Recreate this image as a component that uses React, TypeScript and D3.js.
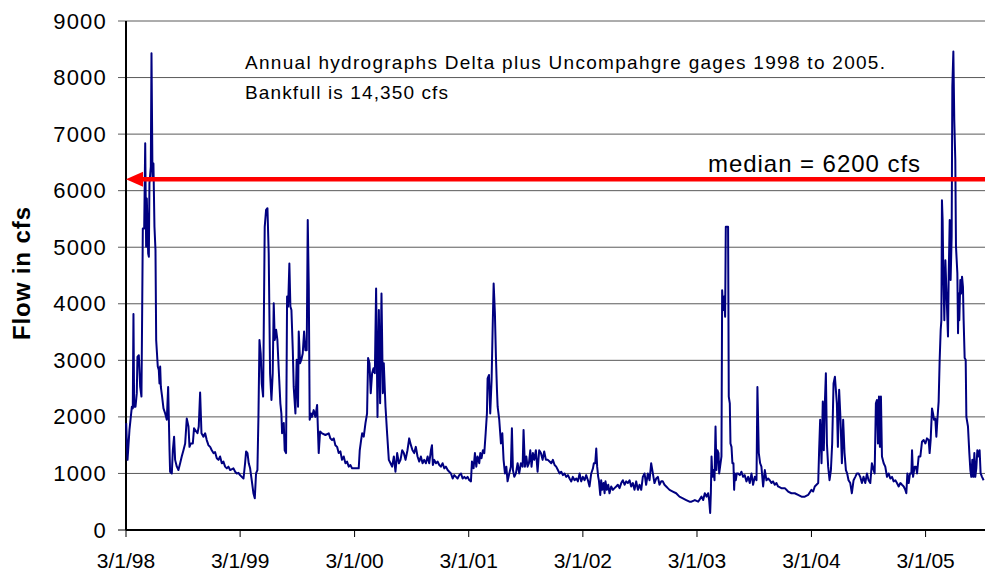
import React from "react";
import * as d3 from "d3";

// decimal years
const years: number[] = [
1998.163,1998.175,1998.192,1998.213,1998.221,1998.227,1998.233,1998.245,1998.256,1998.262,1998.274,1998.286,1998.297,1998.303,1998.309,1998.321,1998.330,1998.338,1998.344,1998.356,1998.362,1998.367,1998.379,1998.385,1998.394,1998.402,1998.411,1998.420,1998.426,1998.440,1998.449,1998.455,1998.461,1998.467,1998.478,1998.490,1998.505,1998.519,1998.531,1998.543,1998.548,1998.563,1998.572,1998.583,1998.592,1998.607,1998.621,1998.636,1998.650,1998.665,1998.680,1998.694,1998.709,1998.718,1998.729,1998.747,1998.758,1998.767,1998.788,1998.799,1998.811,1998.823,1998.840,1998.855,1998.869,1998.884,1998.899,1998.913,1998.928,1998.942,1998.957,1998.972,1998.986,1999.001,1999.015,1999.030,1999.045,1999.059,1999.074,1999.103,1999.118,1999.132,1999.147,1999.161,1999.176,1999.191,1999.205,1999.214,1999.226,1999.237,1999.249,1999.263,1999.278,1999.290,1999.301,1999.313,1999.322,1999.331,1999.342,1999.351,
1999.363,1999.377,1999.389,1999.401,1999.412,1999.424,1999.436,1999.447,1999.456,1999.465,1999.477,1999.488,1999.500,1999.514,1999.523,1999.529,1999.544,1999.552,1999.564,1999.573,1999.582,1999.593,1999.602,1999.611,1999.623,1999.631,1999.646,1999.657,1999.669,1999.675,1999.687,1999.698,1999.710,1999.722,1999.733,1999.745,1999.754,1999.763,1999.771,1999.783,1999.792,1999.806,1999.821,1999.836,1999.850,1999.862,1999.879,1999.909,1999.938,1999.952,1999.967,1999.982,1999.996,2000.011,2000.025,2000.040,2000.054,2000.069,2000.084,2000.098,2000.113,2000.127,2000.142,2000.171,2000.200,2000.209,2000.221,2000.230,2000.244,2000.259,2000.273,2000.282,2000.294,2000.305,2000.317,2000.329,2000.341,2000.352,2000.364,2000.376,2000.387,2000.399,2000.411,2000.419,2000.434,2000.448,2000.463,2000.478,2000.492,2000.507,2000.521,2000.536,2000.551,2000.565,2000.580,2000.594,2000.609,
2000.626,2000.641,2000.656,2000.670,2000.685,2000.699,2000.714,2000.729,2000.743,2000.758,2000.772,2000.787,2000.802,2000.816,2000.831,2000.840,2000.848,2000.860,2000.875,2000.889,2000.904,2000.918,2000.933,2000.948,2000.962,2000.977,2000.991,2001.006,2001.021,2001.035,2001.050,2001.064,2001.079,2001.094,2001.108,2001.123,2001.137,2001.152,2001.167,2001.181,2001.190,2001.204,2001.216,2001.228,2001.239,2001.254,2001.263,2001.274,2001.286,2001.298,2001.310,2001.321,2001.327,2001.339,2001.350,2001.362,2001.371,2001.380,2001.391,2001.400,2001.409,2001.415,2001.429,2001.444,2001.456,2001.467,2001.479,2001.491,2001.502,2001.517,2001.531,2001.540,2001.549,2001.561,2001.575,2001.590,2001.604,2001.619,2001.634,2001.642,2001.654,2001.666,2001.677,2001.689,2001.701,2001.712,2001.724,2001.736,2001.750,2001.765,2001.779,2001.794,2001.809,2001.823,2001.838,
2001.855,2001.870,2001.885,2001.899,2001.914,2001.928,2001.943,2001.958,2001.972,2001.987,2002.001,2002.016,2002.031,2002.045,2002.060,2002.074,2002.089,2002.104,2002.118,2002.133,2002.147,2002.162,2002.177,2002.191,2002.206,2002.220,2002.235,2002.250,2002.258,2002.270,2002.279,2002.287,2002.296,2002.302,2002.314,2002.322,2002.331,2002.343,2002.352,2002.360,2002.372,2002.384,2002.395,2002.410,2002.425,2002.439,2002.454,2002.468,2002.483,2002.498,2002.512,2002.527,2002.541,2002.556,2002.571,2002.585,2002.600,2002.614,2002.629,2002.644,2002.658,2002.673,2002.687,2002.702,2002.716,2002.731,2002.746,2002.760,2002.775,2002.789,2002.804,2002.819,2002.833,2002.848,2002.862,2002.877,2002.892,2002.906,2002.921,2002.950,2002.979,2003.008,2003.038,2003.067,2003.096,
2003.113,2003.143,2003.172,2003.201,2003.216,2003.230,2003.245,2003.259,2003.268,2003.277,2003.283,2003.289,2003.297,2003.306,2003.315,2003.324,2003.332,2003.341,2003.350,2003.356,2003.364,2003.376,2003.382,2003.391,2003.399,2003.408,2003.414,2003.426,2003.434,2003.440,2003.449,2003.455,2003.464,2003.472,2003.481,2003.487,2003.493,2003.502,2003.510,2003.522,2003.537,2003.551,2003.566,2003.580,2003.595,2003.610,2003.624,2003.639,2003.653,2003.668,2003.683,2003.691,2003.703,2003.715,2003.726,2003.741,2003.756,2003.770,2003.785,2003.799,2003.814,2003.828,2003.843,2003.858,2003.872,2003.901,2003.931,2003.960,2003.989,2004.018,2004.047,2004.077,2004.106,2004.135,2004.164,2004.179,2004.193,2004.208,2004.223,2004.231,2004.240,2004.252,2004.263,2004.272,2004.281,2004.290,2004.299,2004.310,2004.322,2004.334,2004.345,2004.357,2004.369,
2004.386,2004.395,2004.406,2004.418,2004.430,2004.441,2004.453,2004.465,2004.476,2004.488,2004.503,2004.517,2004.532,2004.547,2004.561,2004.576,2004.590,2004.605,2004.619,2004.634,2004.649,2004.663,2004.678,2004.692,2004.707,2004.716,2004.727,2004.736,2004.745,2004.754,2004.762,2004.771,2004.780,2004.795,2004.809,2004.824,2004.838,2004.853,2004.868,2004.882,2004.897,2004.911,2004.926,2004.941,2004.955,2004.970,2004.984,2004.993,2005.002,2005.014,2005.025,2005.037,2005.043,2005.052,2005.066,2005.078,2005.087,2005.101,2005.116,2005.130,2005.145,2005.160,2005.174,2005.189,2005.197,2005.206,2005.218,2005.227,2005.235,2005.247,2005.256,2005.265,2005.276,2005.285,2005.294,2005.300,2005.305,2005.311,2005.317,2005.326,2005.335,2005.346,2005.358,2005.364,2005.373,2005.381,2005.390,2005.396,2005.405,2005.413,2005.422,2005.428,2005.440,2005.446,2005.451,2005.457,2005.466,2005.472,2005.481,2005.489,2005.495,2005.504,2005.513,2005.519,2005.533,2005.545,2005.554,2005.562,2005.571,2005.580,2005.589,2005.597,2005.606,2005.615,2005.627,2005.635,2005.644,2005.656,2005.670
];

// flow in cfs
const flow: number[] = [
1890,1240,1770,2180,2150,3820,2180,2180,2420,3060,3090,2530,2360,3800,5330,5330,6840,5010,5860,4890,4830,6130,6420,8430,6190,6480,5360,4950,3360,2890,2830,2590,2890,2530,2360,2150,2060,1950,2530,1410,1030,1000,1410,1650,1240,1120,1060,1180,1300,1410,1530,1970,1830,1470,1530,1530,1800,1770,1710,1830,2430,1710,1650,1710,1590,1500,1470,1410,1360,1380,1270,1240,1300,1180,1210,1120,1090,1120,1060,1090,1030,1000,1010,970,940,910,1180,1390,1360,1180,1090,880,650,560,1000,1060,2000,3360,3120,2590,
2360,5360,5660,5690,4890,2770,2300,2770,4010,3360,3540,3360,2830,2240,2060,1710,1890,1410,1360,4130,3950,4710,3950,3890,3180,2530,2060,3010,2180,3510,2950,3010,3120,3510,3180,3180,5480,4300,1950,2060,2000,2120,2000,2210,1360,1740,1710,1680,1710,1620,1590,1620,1500,1470,1360,1390,1240,1300,1180,1210,1120,1150,1090,1090,1090,1410,1590,1710,1650,1890,2060,3040,2950,2420,2770,2860,2770,4270,2000,3890,2240,4180,2420,2950,2180,1710,1240,1180,1120,1300,1030,1360,1180,1240,1410,1360,1240,
1410,1620,1500,1410,1360,1470,1300,1210,1300,1180,1240,1180,1300,1180,1410,1500,1150,1240,1180,1210,1150,1120,1180,1090,1120,1060,1030,1000,910,970,940,910,970,1000,910,940,910,940,880,860,1210,1090,1360,1120,1300,1180,1360,1270,1410,1360,1710,2060,2680,2740,2060,2650,3540,4360,3830,3060,2480,2180,1950,1530,1710,1240,1000,1120,860,1000,1120,1800,1060,940,1000,1180,1000,1180,1120,1770,1120,1300,1120,1180,1410,1120,1360,1240,1410,1030,1410,1360,1240,1390,1240,
1240,1210,1180,1240,1150,1120,1060,1000,1030,970,1000,940,970,910,860,940,880,910,860,1000,860,940,880,970,880,770,1000,1090,1180,1180,1440,1120,940,880,620,880,710,830,650,860,710,800,650,770,710,740,770,800,740,830,880,800,860,830,880,770,830,710,860,710,800,710,940,1000,800,1000,880,1180,1000,830,910,940,800,860,860,800,770,740,710,680,650,590,560,530,500,
500,530,500,590,530,650,590,650,530,300,650,1300,940,1060,880,1830,1060,1410,1360,1000,1120,1300,4240,3890,4130,3770,5360,5360,5360,2360,2240,1530,1470,1180,1180,710,1000,880,1000,1000,970,1030,940,970,860,940,830,1000,800,940,880,2530,1360,1180,1120,770,1060,880,910,880,830,860,800,830,770,740,740,680,650,650,620,590,590,620,710,680,770,800,830,1410,1950,1180,2270,1410,2240,2770,1530,1120,880,1060,1530,2590,2710,
2240,1470,2480,1950,1180,1950,1360,1060,1000,880,830,650,880,940,1000,1000,940,830,940,830,1000,880,830,1180,1060,1000,2240,2300,1530,2360,1470,2360,1300,1180,1120,940,1000,910,940,860,880,830,770,830,800,770,710,650,1000,830,1000,1000,1410,940,1120,1120,1000,1300,1300,1560,1590,1530,1620,1590,1360,1590,2150,2060,1950,1970,1650,1950,2270,3010,3540,3710,5830,5480,4540,3710,4770,4130,3420,4480,5480,4420,5190,7840,8460,7250,6540,5010,4540,3480,4180,3710,4420,4180,4480,4300,3710,3040,3010,2000,1830,1360,1060,940,1240,940,1360,940,1090,1410,1300,1410,1000,940,880
];

const yTicks: number[] = [0, 1000, 2000, 3000, 4000, 5000, 6000, 7000, 8000, 9000];
const xTickYears: number[] = [1998, 1999, 2000, 2001, 2002, 2003, 2004, 2005];
const xTickLabels: string[] = ["3/1/98", "3/1/99", "3/1/00", "3/1/01", "3/1/02", "3/1/03", "3/1/04", "3/1/05"];
const medianFlow = 6200;
const yAxisTitle = "Flow in cfs";
const noteLine1 = "Annual hydrographs Delta plus Uncompahgre gages 1998 to 2005.";
const noteLine2 = "Bankfull is 14,350 cfs";
const medianLabel = "median = 6200 cfs";

function decYearToDate(t: number): Date {
  const y = Math.floor(t);
  const s = Date.UTC(y, 0, 1);
  const e = Date.UTC(y + 1, 0, 1);
  return new Date(s + (t - y) * (e - s));
}

const W = 985, H = 575;
const left = 126, right = 985, top = 21, bottom = 530;
const FONT = "'Liberation Sans', Arial, sans-serif";

export default function App() {
  const x = d3.scaleUtc()
    .domain([new Date(Date.UTC(1998, 2, 1)), new Date(Date.UTC(2005, 8, 7))])
    .range([left, right]);
  const y = d3.scaleLinear().domain([0, 9000]).range([bottom, top]);

  const pts = years.map((t, i) => [x(decYearToDate(t)), y(flow[i])] as [number, number]);
  const line = d3.line<[number, number]>().x(d => d[0]).y(d => d[1]);
  const my = y(medianFlow);

  return (
    <svg width={W} height={H} style={{ position: "absolute", left: 0, top: 0, background: "#fff" }} fontFamily={FONT}>
      <rect x={0} y={0} width={W} height={H} fill="#fff" />
      {yTicks.filter(v => v > 0).map(v => (
        <line key={"g" + v} x1={left - 8} x2={right} y1={y(v)} y2={y(v)} stroke="#5a5a5a" strokeWidth={1} />
      ))}
      <line x1={left - 8} x2={left} y1={bottom} y2={bottom} stroke="#000" strokeWidth={1} />
      {yTicks.map(v => (
        <text key={"yt" + v} x={107} y={y(v) + 7.5} textAnchor="end" fontSize={22} letterSpacing={1.2} fill="#000">{v}</text>
      ))}
      {xTickYears.map((yr, i) => {
        const xx = x(new Date(Date.UTC(yr, 2, 1)));
        return (
          <g key={"xt" + yr}>
            <line x1={xx} x2={xx} y1={bottom} y2={bottom + 7} stroke="#000" strokeWidth={1} />
            <text x={xx} y={568} textAnchor="middle" fontSize={21} fill="#000">{xTickLabels[i]}</text>
          </g>
        );
      })}
      <line x1={left} x2={left} y1={top} y2={bottom} stroke="#000" strokeWidth={2} />
      <line x1={left} x2={right} y1={bottom} y2={bottom} stroke="#000" strokeWidth={2} />
      <path d={line(pts) || ""} fill="none" stroke="#000080" strokeWidth={2} strokeLinejoin="round" />
      <line x1={140} x2={right} y1={my} y2={my} stroke="#ff0000" strokeWidth={4.5} />
      <polygon points={`${left},${my} ${left + 17},${my - 7.5} ${left + 17},${my + 7.5}`} fill="#ff0000" />
      <text x={245} y={69} fontSize={19} textLength={640} lengthAdjust="spacing" fill="#000">{noteLine1}</text>
      <text x={245} y={99} fontSize={19} textLength={203} lengthAdjust="spacing" fill="#000">{noteLine2}</text>
      <text x={708} y={172} fontSize={24} textLength={212} lengthAdjust="spacing" fill="#000">{medianLabel}</text>
      <text transform={`translate(30,${273.5}) rotate(-90)`} textAnchor="middle" fontSize={24} fontWeight="bold" textLength={133} lengthAdjust="spacing" fill="#000">{yAxisTitle}</text>
    </svg>
  );
}
